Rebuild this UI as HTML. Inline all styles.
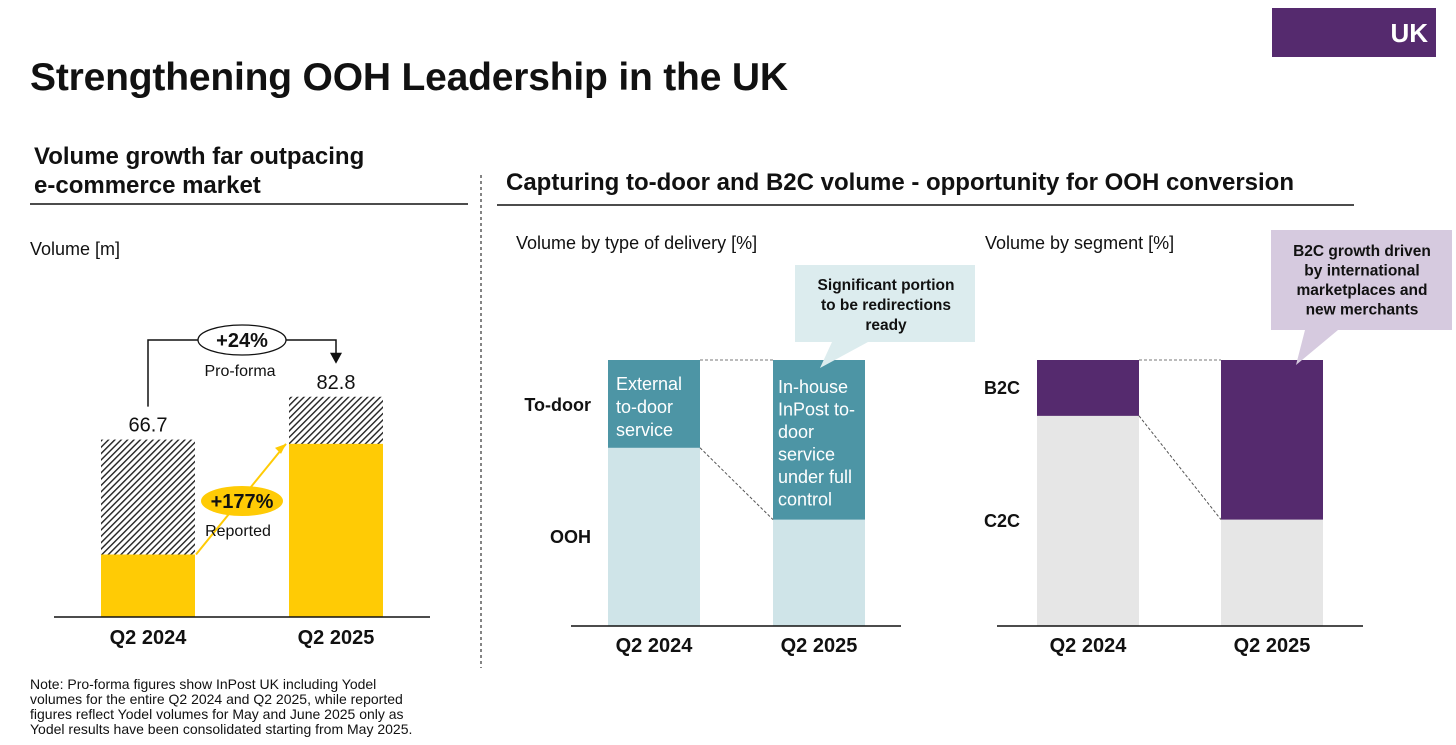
<!DOCTYPE html>
<html><head><meta charset="utf-8">
<style>
body{margin:0;width:1456px;height:745px;background:#fff;overflow:hidden;font-family:"Liberation Sans",sans-serif;}
svg{display:block}
</style></head>
<body>
<svg id="s" width="1456" height="745" viewBox="0 0 1456 745" xmlns="http://www.w3.org/2000/svg" font-family="Liberation Sans, sans-serif">
<defs>
<pattern id="hatch" patternUnits="userSpaceOnUse" width="4.5" height="4.5" patternTransform="rotate(45)">
<rect width="4.5" height="4.5" fill="#fff"/><rect width="1.4" height="4.5" fill="#222"/>
</pattern>
</defs>
<rect x="1272" y="8" width="164" height="49" fill="#552a6e"/>
<text x="1428" y="42" text-anchor="end" fill="#fff" font-size="26" font-weight="bold">UK</text>
<text x="30" y="90" font-size="39" font-weight="bold" fill="#111" textLength="758">Strengthening OOH Leadership in the UK</text>

<text x="34" y="164" font-size="24" font-weight="bold" fill="#111"><tspan x="34">Volume growth far outpacing</tspan><tspan x="34" dy="29">e-commerce market</tspan></text>
<line x1="30" y1="204" x2="468" y2="204" stroke="#111" stroke-width="1.5"/>
<text x="506" y="190" font-size="24" font-weight="bold" fill="#111">Capturing to-door and B2C volume - opportunity for OOH conversion</text>
<line x1="497" y1="205" x2="1354" y2="205" stroke="#111" stroke-width="1.5"/>
<line x1="481" y1="175" x2="481" y2="668" stroke="#333" stroke-width="1.2" stroke-dasharray="3,3"/>

<text x="30" y="255" font-size="18" fill="#111">Volume [m]</text>
<text x="516" y="249" font-size="18" fill="#111">Volume by type of delivery [%]</text>
<text x="985" y="249" font-size="18" fill="#111">Volume by segment [%]</text>

<g id="left"></g>
<g id="mid"></g>
<g id="right"></g>

<text font-size="14" fill="#111"><tspan x="30" y="689">Note: Pro-forma figures show InPost UK including Yodel</tspan><tspan x="30" y="704">volumes for the entire Q2 2024 and Q2 2025, while reported</tspan><tspan x="30" y="719">figures reflect Yodel volumes for May and June 2025 only as</tspan><tspan x="30" y="734">Yodel results have been consolidated starting from May 2025.</tspan></text>
</svg>
<script>
const NS="http://www.w3.org/2000/svg";
const categories=["Q2 2024","Q2 2025"];
const proforma=[66.7,82.8];
const reported=[23.5,65.1];
const toDoorPct=[33,60];
const b2cPct=[21,60];

function el(parent,tag,attrs,text){const e=document.createElementNS(NS,tag);for(const k in attrs)e.setAttribute(k,attrs[k]);if(text!==undefined)e.textContent=text;parent.appendChild(e);return e;}

// Left chart
const L=document.getElementById('left');
const lBase=617,lScale=2.66,lX=[101,289],lW=94;
const ly=v=>lBase-v*lScale;
categories.forEach((c,i)=>{
  let r=el(L,'rect',{x:lX[i],y:ly(proforma[i]),width:lW,height:lBase-ly(proforma[i]),fill:'url(#hatch)'});
  
  
  let y=el(L,'rect',{x:lX[i],y:ly(reported[i]),width:lW,height:lBase-ly(reported[i]),fill:'#ffcb05'});
  
  
  let t=el(L,'text',{x:lX[i]+lW/2,y:ly(proforma[i])-8,'text-anchor':'middle','font-size':20,fill:'#111'},proforma[i].toFixed(1));
  
  
  let cl=el(L,'text',{x:lX[i]+lW/2,y:644,'text-anchor':'middle','font-size':20,'font-weight':'bold',fill:'#111'},c);
  
  
});
let ax=el(L,'line',{x1:54,y1:lBase,x2:430,y2:lBase,stroke:'#111','stroke-width':1.5});


const bx1=lX[0]+lW/2,bx2=lX[1]+lW/2,bTop=340;
let br=el(L,'path',{d:`M${bx1} ${ly(proforma[0])-33} V${bTop} H${bx2} V${ly(proforma[1])-42}`,fill:'none',stroke:'#111','stroke-width':1.5});


let ah=el(L,'path',{d:`M${bx2-6} ${ly(proforma[1])-44} L${bx2+6} ${ly(proforma[1])-44} L${bx2} ${ly(proforma[1])-33}Z`,fill:'#111'});


let e1=el(L,'ellipse',{cx:242,cy:bTop,rx:44,ry:15,fill:'#fff',stroke:'#111','stroke-width':1.3});


let pct1=((proforma[1]/proforma[0]-1)*100).toFixed(0);
let t1=el(L,'text',{x:242,y:bTop+7,'text-anchor':'middle','font-size':20,'font-weight':'bold',fill:'#111'},'+'+pct1+'%');


let t2=el(L,'text',{x:240,y:376,'text-anchor':'middle','font-size':16,fill:'#111'},'Pro-forma');


const ax1=lX[0]+lW+1,ay1=ly(reported[0]),ax2=lX[1]-3,ay2=ly(reported[1]);
let ya=el(L,'line',{x1:ax1,y1:ay1,x2:ax2,y2:ay2,stroke:'#ffcb05','stroke-width':2});


let yh=el(L,'path',{d:`M${ax2} ${ay2} l-11 4 l6 6 Z`,fill:'#ffcb05'});


let e2=el(L,'ellipse',{cx:242,cy:501,rx:41,ry:15,fill:'#ffcb05'});


let t3=el(L,'text',{x:242,y:508,'text-anchor':'middle','font-size':20,'font-weight':'bold',fill:'#111'},'+177%');


let t4=el(L,'text',{x:238,y:536,'text-anchor':'middle','font-size':16,fill:'#111'},'Reported');



// Stacked 100% charts
function stacked(g,prefix,pcts,xs,w,axisX1,axisX2,topCol,botCol,labels,topLabel,botLabel,labelX){
  const base=626,top=360,h=base-top;
  const sy=p=>top+p/100*h;
  xs.forEach((x,i)=>{
    let b=el(g,'rect',{x:x,y:top,width:w,height:h,fill:botCol});
    
    
    let t=el(g,'rect',{x:x,y:top,width:w,height:sy(pcts[i])-top,fill:topCol});
    
    
    let c=el(g,'text',{x:x+w/2,y:652,'text-anchor':'middle','font-size':20,'font-weight':'bold',fill:'#111'},categories[i]);
    
    
  });
  let d1=el(g,'line',{x1:xs[0]+w,y1:top,x2:xs[1],y2:top,stroke:'#777','stroke-width':1,'stroke-dasharray':'3,2'});
  
  
  let d2=el(g,'line',{x1:xs[0]+w,y1:sy(pcts[0]),x2:xs[1],y2:sy(pcts[1]),stroke:'#555','stroke-width':1,'stroke-dasharray':'3,2'});
  
  
  let a=el(g,'line',{x1:axisX1,y1:base,x2:axisX2,y2:base,stroke:'#111','stroke-width':1.5});
  
  
  let l1=el(g,'text',{x:labelX,y:topLabel,'text-anchor':'end','font-size':18,'font-weight':'bold',fill:'#111'},labels[0]);
  
  
  let l2=el(g,'text',{x:labelX,y:botLabel,'text-anchor':'end','font-size':18,'font-weight':'bold',fill:'#111'},labels[1]);
  
  
}
const M=document.getElementById('mid');
stacked(M,'delivery',toDoorPct,[608,773],92,571,901,'#4d95a5','#cfe4e8',['To-door','OOH'],411,543,591);
const R=document.getElementById('right');
stacked(R,'segment',b2cPct,[1037,1221],102,997,1363,'#552a6e','#e6e6e6',['B2C','C2C'],394,527,1020);

function lines(g,name,arr,x,y0,lh,size,col,bold,anchor){
  let t=el(g,'text',{'font-size':size,fill:col,'font-weight':bold?'bold':'normal','text-anchor':anchor||'start'});
  
  
  arr.forEach((s,i)=>el(t,'tspan',{x:x,y:y0+i*lh},s));
}
lines(M,'external-to-door-text',['External','to-door','service'],616,390,23,18,'#fff',false);
lines(M,'in-house-to-door-text',['In-house','InPost to-','door','service','under full','control'],778,393,22.5,18,'#fff',false);

// Callouts
let c1=el(M,'path',{d:'M795 265 H975 V342 H868 L820 368 L832 342 H795 Z',fill:'#dcecee'});


lines(M,'redirection-callout-text',['Significant portion','to be redirections','ready'],886,290,20,15.5,'#111',true,'middle');
let c2=el(R,'path',{d:'M1271 230 H1452 V330 H1338 L1296 365 L1305 330 H1271 Z',fill:'#d6cadf'});


lines(R,'b2c-growth-callout-text',['B2C growth driven','by international','marketplaces and','new merchants'],1362,256,19.5,15.5,'#111',true,'middle');
</script>
</body></html>
